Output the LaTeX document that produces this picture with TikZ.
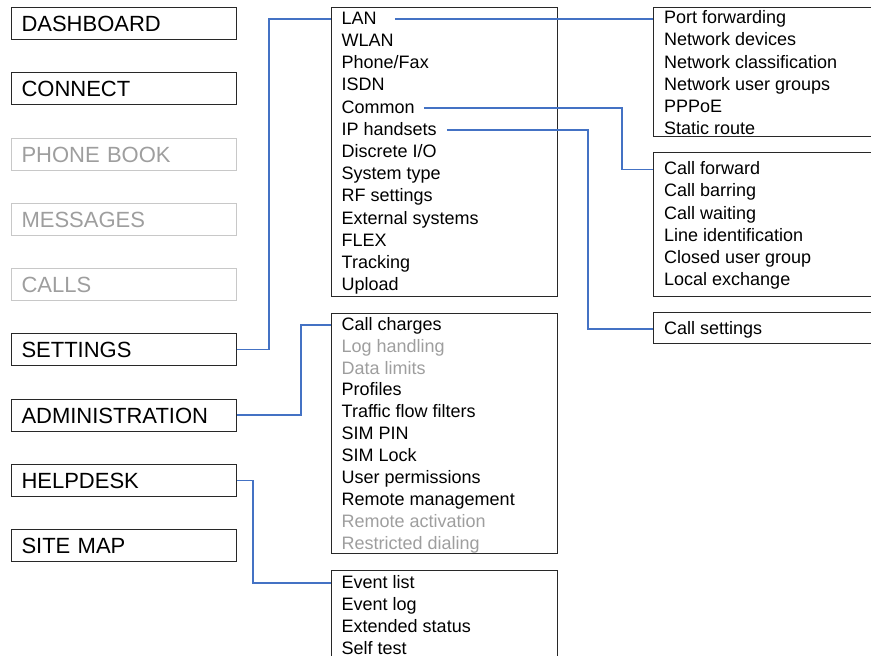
\documentclass[tikz,border=0pt]{standalone}
\usepackage{fontspec}
\setmainfont{Liberation Sans}
\usetikzlibrary{positioning,calc}
\definecolor{linkblue}{RGB}{68,114,196}
\definecolor{framegray}{RGB}{40,40,40}
\definecolor{offgray}{RGB}{158,158,158}
\definecolor{offframe}{RGB}{200,200,200}

\begin{document}
\begin{tikzpicture}[
    x=1pt, y=-1pt,
    node distance=32.25pt,
    menu/.style={rectangle, draw=framegray, line width=1pt, text width=205pt, inner xsep=10pt, inner ysep=0pt, text height=16pt, text depth=0pt, minimum height=32pt, align=left, font=\fontsize{22}{26}\selectfont},
    menuoff/.style={menu, draw=offframe, text=offgray},
    panel/.style={rectangle, draw=framegray, line width=1pt, inner sep=0pt, anchor=north west},
    item/.style={anchor=north west, inner xsep=0pt, inner ysep=2pt, text height=14pt, text depth=3.8pt, font=\fontsize{18}{22}\selectfont},
    itemoff/.style={item, text=offgray},
    link/.style={draw=linkblue, line width=1.4pt}
]
\useasboundingbox (0,0) rectangle (871,656);
\clip (0,0) rectangle (871,656);

% Main menu
\node[menu, anchor=north west] (dashboard) at (11,7) {DASHBOARD};
\node[menu, below=of dashboard] (connect) {CONNECT};
\node[menuoff, below=of connect] (phonebook) {PHONE BOOK};
\node[menuoff, below=of phonebook] (messages) {MESSAGES};
\node[menuoff, below=of messages] (calls) {CALLS};
\node[menu, below=of calls] (settings) {SETTINGS};
\node[menu, below=of settings] (administration) {ADMINISTRATION};
\node[menu, below=of administration] (helpdesk) {HELPDESK};
\node[menu, below=of helpdesk] (sitemap) {SITE MAP};

% Settings submenu
\node[panel, minimum width=226pt, minimum height=289pt] (setbox) at (331,7) {};
\node[item] (lan) at ([shift={(10.5,1)}]setbox.north west) {LAN};
\node[item] (wlan) at (lan.south west) {WLAN};
\node[item] (phonefax) at (wlan.south west) {Phone/Fax};
\node[item] (isdn) at (phonefax.south west) {ISDN};
\node[item] (common) at (isdn.south west) {Common};
\node[item] (iphand) at (common.south west) {IP handsets};
\node[item] (discrete) at (iphand.south west) {Discrete I/O};
\node[item] (systype) at (discrete.south west) {System type};
\node[item] (rfset) at (systype.south west) {RF settings};
\node[item] (extsys) at (rfset.south west) {External systems};
\node[item] (flex) at (extsys.south west) {FLEX};
\node[item] (tracking) at (flex.south west) {Tracking};
\node[item] (upload) at (tracking.south west) {Upload};

% Administration submenu (a bit tighter)
\begin{scope}[item/.append style={text depth=3.5pt}]
\node[panel, minimum width=226pt, minimum height=240pt] (admbox) at (331,313) {};
\node[item] (charges) at ([shift={(10.5,1)}]admbox.north west) {Call charges};
\node[itemoff] (loghand) at (charges.south west) {Log handling};
\node[itemoff] (datalim) at (loghand.south west) {Data limits};
\node[item] (profiles) at (datalim.south west) {Profiles};
\node[item] (traffic) at (profiles.south west) {Traffic flow filters};
\node[item] (simpin) at (traffic.south west) {SIM PIN};
\node[item] (simlock) at (simpin.south west) {SIM Lock};
\node[item] (userperm) at (simlock.south west) {User permissions};
\node[item] (remman) at (userperm.south west) {Remote management};
\node[itemoff] (remact) at (remman.south west) {Remote activation};
\node[itemoff] (restrict) at (remact.south west) {Restricted dialing};
\end{scope}

% Helpdesk submenu
\node[panel, minimum width=226pt, minimum height=100pt] (helpbox) at (331,570) {};
\node[item] (evlist) at ([shift={(10.5,2)}]helpbox.north west) {Event list};
\node[item] (evlog) at (evlist.south west) {Event log};
\node[item] (extstat) at (evlog.south west) {Extended status};
\node[item] (selftest) at (extstat.south west) {Self test};

% LAN submenu
\node[panel, minimum width=250pt, minimum height=129pt] (lanbox) at (653,7) {};
\node[item] (portfwd) at ([shift={(11,0.5)}]lanbox.north west) {Port forwarding};
\node[item] (netdev) at (portfwd.south west) {Network devices};
\node[item] (netclass) at (netdev.south west) {Network classification};
\node[item] (netgroups) at (netclass.south west) {Network user groups};
\node[item] (pppoe) at (netgroups.south west) {PPPoE};
\node[item] (static) at (pppoe.south west) {Static route};

% Common submenu
\node[panel, minimum width=250pt, minimum height=144pt] (combox) at (653,152) {};
\node[item] (callfwd) at ([shift={(11,6.5)}]combox.north west) {Call forward};
\node[item] (callbar) at (callfwd.south west) {Call barring};
\node[item] (callwait) at (callbar.south west) {Call waiting};
\node[item] (lineid) at (callwait.south west) {Line identification};
\node[item] (cug) at (lineid.south west) {Closed user group};
\node[item] (localex) at (cug.south west) {Local exchange};

% IP handsets submenu
\node[panel, minimum width=250pt, minimum height=31pt] (cbox) at (653,312) {};
\node[item] (callset) at ([shift={(11,6)}]cbox.north west) {Call settings};

% Links
\draw[link] (settings.east) -- ++(32,0) |- (lan -| setbox.west);
\draw[link] (administration.east) -- ++(64,0) |- (charges -| admbox.west);
\draw[link] (helpdesk.east) -- ++(16,0) |- (evlist -| helpbox.west);
\draw[link] ([xshift=18pt]lan.east) -- (lan -| lanbox.west);
\draw[link] ([xshift=9pt]common.east) -| ($(callfwd -| combox.west)+(-31,0)$) -- (callfwd -| combox.west);
\draw[link] ([xshift=10pt]iphand.east) -| ($(callset -| cbox.west)+(-65,0)$) -- (callset -| cbox.west);

\end{tikzpicture}
\end{document}
